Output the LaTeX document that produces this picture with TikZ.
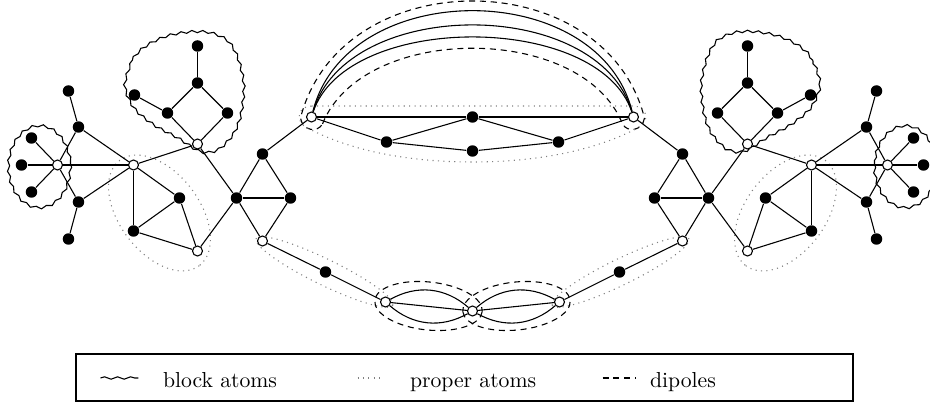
\documentclass[tikz,border=0pt]{standalone}
\usetikzlibrary{decorations.pathmorphing}
\tikzset{
  blk/.style={circle,fill=black,inner sep=0pt,minimum size=5.3pt},
  wht/.style={circle,draw=black,fill=white,inner sep=0pt,minimum size=4.6pt},
  blockatom/.style={decorate,decoration={snake,amplitude=0.55pt,segment length=5pt}},
  properatom/.style={gray,dotted},
  dipole/.style={dash pattern=on 2.8pt off 2.2pt},
}
\begin{document}
\begin{tikzpicture}[x=0.0162cm,y=-0.0162cm,line width=0.5pt]
\path[use as bounding box,clip] (-472.5,0) rectangle (457.5,404);

% the big dipole on top and its proper atom
\draw[dipole] (-150,124) .. controls (-110,23) and (110,23) .. (150,124)
  .. controls (155,133) and (170,131) .. (172,118)
  .. controls (132,-38) and (-132,-38) .. (-172,118)
  .. controls (-170,131) and (-155,133) .. (-150,124) -- cycle;
\draw[properatom] (-161,106) -- (161,106) .. controls (175,106) and (178,122) .. (165,128)
  .. controls (120,152) and (60,162) .. (0,162)
  .. controls (-60,162) and (-120,152) .. (-165,128)
  .. controls (-178,122) and (-175,106) .. (-161,106) -- cycle;

% middle vertices
\node[wht] (O) at (0,311) {};
\node[blk] (mt) at (0,117) {};
\node[blk] (db) at (0,151) {};

% left half and its mirror image
\foreach \s/\p in {1/l,-1/r}{
\begin{scope}[xscale=\s]
\draw[blockatom] (-433,164) ellipse [x radius=31,y radius=41];
\draw[blockatom] plot[smooth cycle] coordinates {(-349,87) (-340,60) (-326,47) (-306,38)
  (-283,34) (-263,35) (-246,43) (-236,60) (-230,87) (-233,117) (-241,137) (-256,152)
  (-273,154) (-296,140) (-320,127) (-340,110)};
\draw[properatom,rotate around={-53:(-313,213)}] (-313,213) ellipse [x radius=66,y radius=40];
\draw[properatom,rotate around={-26:(-148,272)}] (-148,272) ellipse [x radius=76,y radius=13];
\draw[dipole,rotate around={-6:(-44,306)}] (-44,306) ellipse [x radius=54,y radius=24];

\node[wht] (a\p) at (-415,165) {};
\node[blk] (a1\p) at (-441,138) {};
\node[blk] (a2\p) at (-451,165) {};
\node[blk] (a3\p) at (-441,192) {};
\node[blk] (u\p) at (-394,127) {};
\node[blk] (u1\p) at (-404,91) {};
\node[blk] (w\p) at (-394,202) {};
\node[blk] (w1\p) at (-404,239) {};
\node[wht] (b\p) at (-339,165) {};
\node[wht] (c\p) at (-275,144) {};
\node[blk] (c1\p) at (-305,113) {};
\node[blk] (c2\p) at (-245,113) {};
\node[blk] (c3\p) at (-275,83) {};
\node[blk] (c4\p) at (-275,46) {};
\node[blk] (c5\p) at (-338,95) {};
\node[blk] (e\p) at (-293,198) {};
\node[blk] (f\p) at (-339,231) {};
\node[wht] (g\p) at (-275,251) {};
\node[blk] (d\p) at (-236,198) {};
\node[blk] (h\p) at (-210,154) {};
\node[blk] (i\p) at (-182,198) {};
\node[wht] (j\p) at (-210,241) {};
\node[wht] (k\p) at (-161,117) {};
\node[blk] (q\p) at (-86,142) {};
\node[blk] (m\p) at (-147,272) {};
\node[wht] (n\p) at (-87,302) {};
\end{scope}

\foreach \u/\v in {a/a1,a/a2,a/a3,a/u,a/w,u/u1,w/w1,u/b,w/b,a/b,b/c,b/e,b/f,e/f,e/g,f/g,
  c/c1,c/c2,c1/c3,c2/c3,c3/c4,c1/c5,c/d,g/d,d/h,d/i,d/j,h/i,i/j,h/k,j/m,m/n,k/q}
  \draw (\u\p) -- (\v\p);
\draw (k\p) -- (mt);
\draw (q\p) -- (mt);
\draw (q\p) -- (db);
\draw (n\p) -- (O);
\draw (n\p) to[bend left=35] (O);
\draw (n\p) to[bend right=35] (O);
}

% the three parallel edges of the big dipole
\draw (kl) .. controls (-126,-23) and (126,-23) .. (kr);
\draw (kl) .. controls (-126,-4) and (126,-4) .. (kr);
\draw (kl) .. controls (-126,12) and (126,12) .. (kr);

% legend
\draw (-396.5,354) rectangle (380.5,401);
\draw[blockatom,decoration={segment length=6pt}] (-372,378) -- (-334,378);
\node[anchor=base west,inner sep=0pt] (lblock) at (-310,387) {block atoms};
\draw[properatom] (-115,378) -- (-88,378);
\node[anchor=base west,inner sep=0pt] (lproper) at (-63,387) {proper atoms};
\draw[dipole] (130,378) -- (163,378);
\node[anchor=base west,inner sep=0pt] (ldipole) at (177,387) {dipoles};
\end{tikzpicture}
\end{document}
